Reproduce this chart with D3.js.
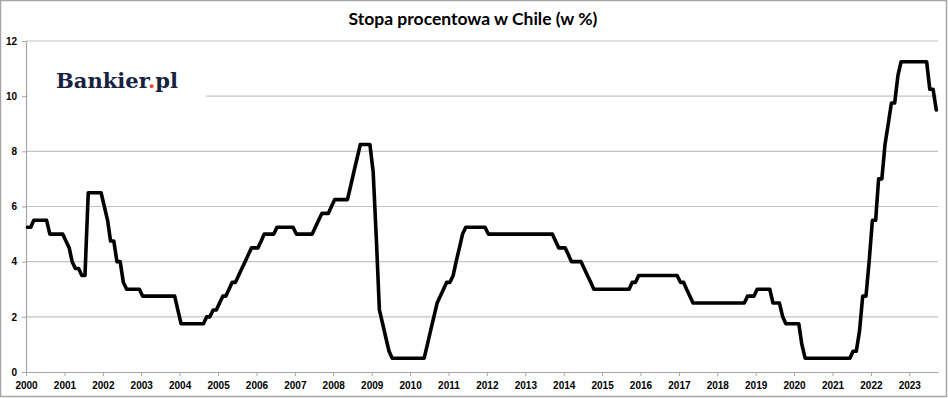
<!DOCTYPE html>
<html>
<head>
<meta charset="UTF-8">
<title>Stopa procentowa w Chile</title>
<script src="https://cdn.jsdelivr.net/npm/d3@7"></script>
<style>
  body { margin: 0; background: #fff; }
  svg text { font-family: "Liberation Sans", Arial, sans-serif; }
</style>
</head>
<body>
<script>
// monthly policy rate, Jan 2000 .. Sep 2023 (one row per year)
var startYear = 2000;
var rates = [
  5.25, 5.25, 5.5, 5.5, 5.5, 5.5, 5.5, 5.0, 5.0, 5.0, 5.0, 5.0,            // 2000
  4.75, 4.5, 4.0, 3.75, 3.75, 3.5, 3.5, 6.5, 6.5, 6.5, 6.5, 6.5,           // 2001
  6.0, 5.5, 4.75, 4.75, 4.0, 4.0, 3.25, 3.0, 3.0, 3.0, 3.0, 3.0,           // 2002
  2.75, 2.75, 2.75, 2.75, 2.75, 2.75, 2.75, 2.75, 2.75, 2.75, 2.75, 2.25,  // 2003
  1.75, 1.75, 1.75, 1.75, 1.75, 1.75, 1.75, 1.75, 2.0, 2.0, 2.25, 2.25,    // 2004
  2.5, 2.75, 2.75, 3.0, 3.25, 3.25, 3.5, 3.75, 4.0, 4.25, 4.5, 4.5,        // 2005
  4.5, 4.75, 5.0, 5.0, 5.0, 5.0, 5.25, 5.25, 5.25, 5.25, 5.25, 5.25,       // 2006
  5.0, 5.0, 5.0, 5.0, 5.0, 5.0, 5.25, 5.5, 5.75, 5.75, 5.75, 6.0,          // 2007
  6.25, 6.25, 6.25, 6.25, 6.25, 6.75, 7.25, 7.75, 8.25, 8.25, 8.25, 8.25,  // 2008
  7.25, 4.75, 2.25, 1.75, 1.25, 0.75, 0.5, 0.5, 0.5, 0.5, 0.5, 0.5,        // 2009
  0.5, 0.5, 0.5, 0.5, 0.5, 1.0, 1.5, 2.0, 2.5, 2.75, 3.0, 3.25,            // 2010
  3.25, 3.5, 4.0, 4.5, 5.0, 5.25, 5.25, 5.25, 5.25, 5.25, 5.25, 5.25,      // 2011
  5.0, 5.0, 5.0, 5.0, 5.0, 5.0, 5.0, 5.0, 5.0, 5.0, 5.0, 5.0,              // 2012
  5.0, 5.0, 5.0, 5.0, 5.0, 5.0, 5.0, 5.0, 5.0, 4.75, 4.5, 4.5,             // 2013
  4.5, 4.25, 4.0, 4.0, 4.0, 4.0, 3.75, 3.5, 3.25, 3.0, 3.0, 3.0,           // 2014
  3.0, 3.0, 3.0, 3.0, 3.0, 3.0, 3.0, 3.0, 3.0, 3.25, 3.25, 3.5,            // 2015
  3.5, 3.5, 3.5, 3.5, 3.5, 3.5, 3.5, 3.5, 3.5, 3.5, 3.5, 3.5,              // 2016
  3.25, 3.25, 3.0, 2.75, 2.5, 2.5, 2.5, 2.5, 2.5, 2.5, 2.5, 2.5,           // 2017
  2.5, 2.5, 2.5, 2.5, 2.5, 2.5, 2.5, 2.5, 2.5, 2.75, 2.75, 2.75,           // 2018
  3.0, 3.0, 3.0, 3.0, 3.0, 2.5, 2.5, 2.5, 2.0, 1.75, 1.75, 1.75,           // 2019
  1.75, 1.75, 1.0, 0.5, 0.5, 0.5, 0.5, 0.5, 0.5, 0.5, 0.5, 0.5,            // 2020
  0.5, 0.5, 0.5, 0.5, 0.5, 0.5, 0.75, 0.75, 1.5, 2.75, 2.75, 4.0,          // 2021
  5.5, 5.5, 7.0, 7.0, 8.25, 9.0, 9.75, 9.75, 10.75, 11.25, 11.25, 11.25,   // 2022
  11.25, 11.25, 11.25, 11.25, 11.25, 11.25, 10.25, 10.25, 9.5              // 2023
];
var yearLabels = d3.range(2000, 2024);
var yTicks = [0, 2, 4, 6, 8, 10, 12];
var title = "Stopa procentowa w Chile (w %)";

var width = 948, height = 398;
var plotLeft = 26, plotRight = 938, plotTop = 41, plotBottom = 372;

// each month is placed mid-month
var data = rates.map(function (v, i) {
    return { date: new Date(startYear, i, 15), value: v };
});

var svg = d3.select("body").append("svg")
        .attr("width", width)
        .attr("height", height);

// outer frame
svg.append("rect")
        .attr("x", 0.5).attr("y", 0.5)
        .attr("width", width - 2).attr("height", height - 2)
        .attr("fill", "#fff")
        .attr("stroke", "#a6a6a6")
        .attr("stroke-width", 1.5);

var x = d3.scaleTime()
        .domain([new Date(2000, 0, 1), new Date(2023, 9, 1)])
        .range([plotLeft, plotRight]);

var y = d3.scaleLinear()
        .domain([0, 12])
        .range([plotBottom, plotTop]);

// gridlines
svg.append("g").selectAll("line")
        .data(yTicks.filter(function (d) { return d > 0; }))
        .enter().append("line")
        .attr("x1", plotLeft).attr("x2", plotRight)
        .attr("y1", function (d) { return y(d); })
        .attr("y2", function (d) { return y(d); })
        .attr("stroke", "#c4c4c4")
        .attr("stroke-width", 1.2);

// white box behind the logo
svg.append("rect")
        .attr("x", plotLeft + 2).attr("y", 58)
        .attr("width", 178).attr("height", 44)
        .attr("fill", "#fff");

svg.append("text")
        .attr("x", 56).attr("y", 88)
        .attr("textLength", 122)
        .attr("lengthAdjust", "spacingAndGlyphs")
        .style("font-family", "'DejaVu Serif', serif")
        .style("font-weight", "bold")
        .style("font-size", "21px")
        .attr("fill", "#16223f")
        .call(function (t) {
            t.append("tspan").text("Bankier");
            t.append("tspan").attr("fill", "#e8472a").text(".");
            t.append("tspan").text("pl");
        });

// axes
var xAxis = d3.axisBottom(x)
        .tickValues(yearLabels.map(function (yr) { return new Date(yr, 0, 1); }))
        .tickFormat(d3.timeFormat("%Y"))
        .tickSizeInner(4).tickSizeOuter(0).tickPadding(6);

var gx = svg.append("g")
        .attr("transform", "translate(0," + plotBottom + ")")
        .call(xAxis);

var yAxis = d3.axisLeft(y)
        .tickValues(yTicks)
        .tickSizeInner(4).tickSizeOuter(0).tickPadding(5);

var gy = svg.append("g")
        .attr("transform", "translate(" + plotLeft + ",0)")
        .call(yAxis);

[gx, gy].forEach(function (g) {
    g.select(".domain").attr("stroke", "#a6a6a6").attr("stroke-width", 1.2);
    g.selectAll(".tick line").attr("stroke", "#a6a6a6");
    g.selectAll(".tick text")
            .attr("fill", "#000")
            .style("font-family", "'Liberation Sans', Arial, sans-serif")
            .style("font-weight", "bold")
            .style("font-size", "10px");
});

// rate line
var line = d3.line()
        .x(function (d) { return x(d.date); })
        .y(function (d) { return y(d.value); });

svg.append("path")
        .datum(data)
        .attr("d", line)
        .attr("fill", "none")
        .attr("stroke", "#000")
        .attr("stroke-width", 3.6)
        .attr("stroke-linejoin", "round")
        .attr("stroke-linecap", "round");

// title
svg.append("text")
        .attr("x", 473).attr("y", 25)
        .attr("text-anchor", "middle")
        .style("font-family", "Lato, 'Open Sans', sans-serif")
        .style("font-weight", "bold")
        .style("font-size", "17.5px")
        .attr("fill", "#000")
        .text(title);
</script>
</body>
</html>
